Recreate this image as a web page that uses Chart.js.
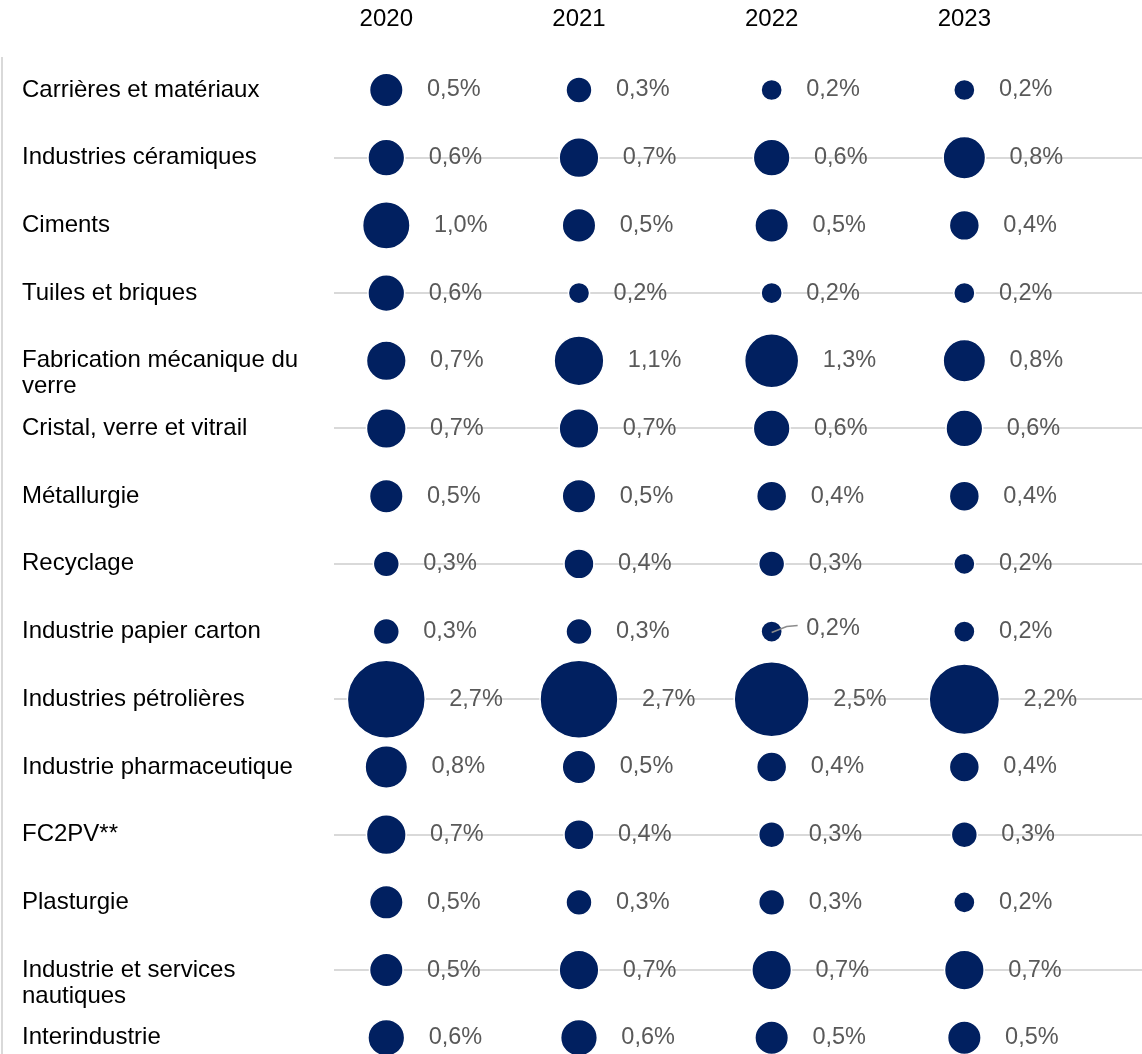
<!DOCTYPE html>
<html>
<head>
<meta charset="utf-8">
<script src="https://cdn.jsdelivr.net/npm/chart.js@4.4.0/dist/chart.umd.min.js"></script>
<style>
  body { margin: 0; background: #fff; }
  canvas { display: block; }
</style>
</head>
<body>
<canvas id="myBubbleChart" width="1142" height="1054"></canvas>
<script>
// categories (rows), top to bottom
const categories = [
    "Carrières et matériaux",
    "Industries céramiques",
    "Ciments",
    "Tuiles et briques",
    ["", "Fabrication mécanique du", "verre"],
    "Cristal, verre et vitrail",
    "Métallurgie",
    "Recyclage",
    "Industrie papier carton",
    "Industries pétrolières",
    "Industrie pharmaceutique",
    "FC2PV**",
    "Plasturgie",
    ["", "Industrie et services", "nautiques"],
    "Interindustrie"
];

const years = ["2020", "2021", "2022", "2023"];

// values in %, one array per year, same order as categories
const values2020 = [0.5, 0.6, 1.0, 0.6, 0.7, 0.7, 0.5, 0.3, 0.3, 2.7, 0.8, 0.7, 0.5, 0.5, 0.6];
const values2021 = [0.3, 0.7, 0.5, 0.2, 1.1, 0.7, 0.5, 0.4, 0.3, 2.7, 0.5, 0.4, 0.3, 0.7, 0.6];
const values2022 = [0.2, 0.6, 0.5, 0.2, 1.3, 0.6, 0.4, 0.3, 0.2, 2.5, 0.4, 0.3, 0.3, 0.7, 0.5];
const values2023 = [0.2, 0.8, 0.4, 0.2, 0.8, 0.6, 0.4, 0.2, 0.2, 2.2, 0.4, 0.3, 0.2, 0.7, 0.5];

const allValues = [values2020, values2021, values2022, values2023];

// label pulled out with a leader line: [row, year index]
const leaderLabels = [[8, 2]];

const navy = '#012060';
const fontFamily = "Arial, 'Liberation Sans', sans-serif";
const sizeK = 23.7; // px radius for 1%

const fmt = v => v.toFixed(1).replace('.', ',') + '%';

const datasets = allValues.map((vals, yi) => ({
    label: years[yi],
    data: vals.map((v, row) => ({ x: yi, y: row, r: sizeK * Math.sqrt(v), v: v })),
    backgroundColor: navy,
    borderColor: '#ffffff',
    borderWidth: 1.5,
    clip: false
}));

// draws left rule and the value labels next to bubbles
const labelPlugin = {
    id: 'valueLabels',
    beforeDraw(chart) {
        const c = chart.ctx;
        c.save();
        c.strokeStyle = '#d9d9d9';
        c.lineWidth = 2;
        c.beginPath();
        c.moveTo(2, 57);
        c.lineTo(2, chart.height);
        c.stroke();
        c.restore();
    },
    afterDatasetsDraw(chart) {
        const c = chart.ctx;
        c.save();
        c.font = '23.5px ' + fontFamily;
        c.fillStyle = '#595959';
        c.textAlign = 'left';
        c.textBaseline = 'middle';
        chart.data.datasets.forEach((ds, di) => {
            const meta = chart.getDatasetMeta(di);
            meta.data.forEach((el, i) => {
                const r = el.options.radius;
                const isLeader = leaderLabels.some(p => p[0] === i && p[1] === di);
                let ty = el.y;
                if (isLeader) {
                    ty = el.y - 3;
                    c.save();
                    c.strokeStyle = '#8c8c8c';
                    c.lineWidth = 1.5;
                    c.beginPath();
                    c.moveTo(el.x, el.y + 1);
                    c.lineTo(el.x + 15, el.y - 5);
                    c.lineTo(el.x + 26, el.y - 6);
                    c.stroke();
                    c.restore();
                }
                c.fillText(fmt(ds.data[i].v), el.x + r + 24, ty);
            });
        });
        c.restore();
    }
};

Chart.defaults.font.family = fontFamily;

const myBubbleChart = new Chart(document.getElementById('myBubbleChart'), {
    type: 'bubble',
    data: { datasets: datasets },
    plugins: [labelPlugin],
    options: {
        responsive: false,
        animation: false,
        events: [],
        devicePixelRatio: 1,
        layout: { autoPadding: false, padding: { left: 22, right: 0, top: 0, bottom: 0 } },
        plugins: {
            legend: { display: false },
            tooltip: { enabled: false }
        },
        scales: {
            x: {
                type: 'linear',
                position: 'top',
                min: -0.2714,
                max: 3.922,
                grid: { display: false, drawTicks: false },
                border: { display: false },
                ticks: {
                    stepSize: 1,
                    includeBounds: false,
                    padding: 22,
                    color: '#000',
                    font: { size: 24 },
                    callback: v => years[v] ?? ''
                },
                afterFit: scale => {
                    scale.height = 56;
                    scale.paddingLeft = 0;
                    scale.paddingRight = 0;
                }
            },
            y: {
                type: 'linear',
                reverse: true,
                min: -0.502,
                max: 14.24,
                border: { display: false },
                grid: {
                    drawTicks: false,
                    lineWidth: 2,
                    color: ctx => (ctx.tick && Number.isInteger(ctx.tick.value) && ctx.tick.value % 2 === 1)
                        ? '#d9d9d9' : 'rgba(0,0,0,0)'
                },
                ticks: {
                    stepSize: 1,
                    includeBounds: false,
                    autoSkip: false,
                    crossAlign: 'far',
                    color: '#000',
                    font: { size: 24, lineHeight: 1.085 },
                    callback: v => categories[v] ?? ''
                },
                afterFit: scale => {
                    scale.width = 312;
                    scale.paddingTop = 0;
                    scale.paddingBottom = 0;
                }
            }
        }
    }
});
</script>
</body>
</html>
